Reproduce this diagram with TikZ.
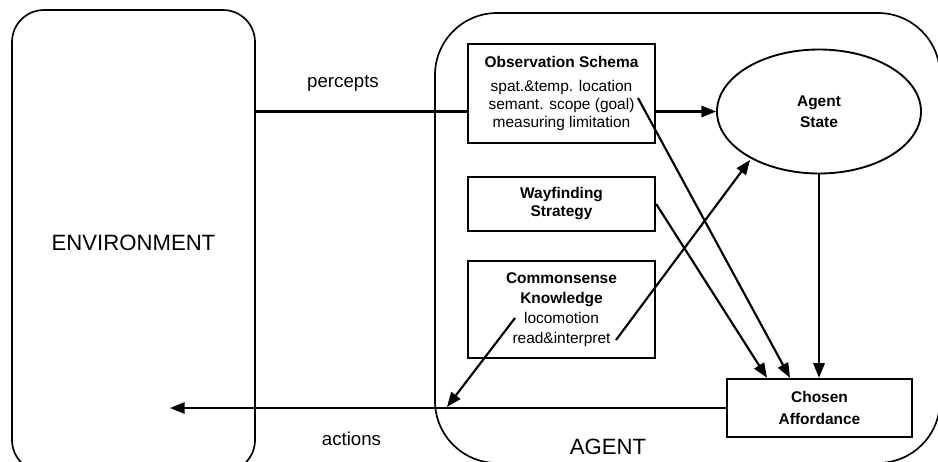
\documentclass[tikz,border=0pt]{standalone}
\usepackage{fontspec}
\setmainfont{Liberation Sans}
\usetikzlibrary{arrows.meta,shapes.geometric,calc,fit}
\begin{document}
\begin{tikzpicture}[x=0.75pt,y=-0.75pt,
  outline/.style={draw, line width=1.25pt, inner sep=0pt, rounded corners=#1},
  box/.style={draw, line width=1.8pt, rectangle, inner sep=0pt, align=center,
    font=\fontsize{11.6}{#1}\selectfont\bfseries},
  bigtext/.style={font=\fontsize{16.6}{20}\selectfont},
  midtext/.style={font=\fontsize{14}{16}\selectfont},
  conn/.style={line width=1.6pt},
  arr/.style={conn, -{Triangle[length=11pt,width=8.5pt]}},
]
\useasboundingbox (0,0) rectangle (938,461);
\clip (0,0) rectangle (938,461);

% outer regions
\node[outline=24pt, fit={(12,10) (255,472)}] (env) {};
\node[bigtext] (envlabel) at (133.5,243) {ENVIRONMENT};
\node[outline=46.5pt, fit={(435,13) (940,463)}] (agent) {};
\node[bigtext] (agentlabel) at (608,447) {AGENT};

% boxes
\node[box=13.2pt, minimum width=140.25pt, minimum height=74.25pt] (obs) at (561.5,93.5)
  {Observation Schema\\[4.8pt] {\mdseries spat.\&temp. location}\\ {\mdseries semant. scope (goal)}\\ {\mdseries measuring limitation}};
\node[box=13.5pt, minimum width=140.25pt, minimum height=40.5pt] (way) at (561.5,204)
  {Wayfinding\\ Strategy};
\node[box=15pt, minimum width=140.25pt, minimum height=72.75pt] (com) at (561.5,309.5)
  {Commonsense\\ Knowledge\\ {\mdseries locomotion}\\ {\mdseries read\&interpret}};
\node[box=16.7pt, minimum width=138.75pt, minimum height=43.5pt] (cho) at (819.5,408)
  {Chosen\\ Affordance};
\node[draw, ellipse, line width=1.4pt, inner sep=0pt, align=center,
  font=\fontsize{11.6}{15.75}\selectfont\bfseries,
  minimum width=153pt, minimum height=93pt] (state) at (819,111.5) {Agent\\ State};

% labels
\node[midtext] (perc) at (343,83) {percepts};
\node[midtext] (act) at (351.5,439) {actions};

% connectors
\draw[conn] (env.east |- state.west) -- (obs.west |- state.west);
\draw[arr] (obs.east |- state.west) -- (state.west);
\coordinate (obsout) at (638,98);
\draw[arr] (obsout) -- ($(cho.north)+(-29.5,0)$);
\draw[arr] (way.east) -- ($(cho.north)+(-52.5,0)$);
\draw[arr] (state.south) -- (state.south |- cho.north);
\coordinate (comout1) at (616,340);
\coordinate (stin) at (750,160);
\draw[arr] (comout1) -- (stin);
\coordinate (comout2) at (515,318);
\coordinate (acthit) at (447,407);
\draw[arr] (comout2) -- (acthit);
\coordinate (acttip) at (170,408);
\draw[arr] (cho.west) -- (acttip);
\end{tikzpicture}
\end{document}
